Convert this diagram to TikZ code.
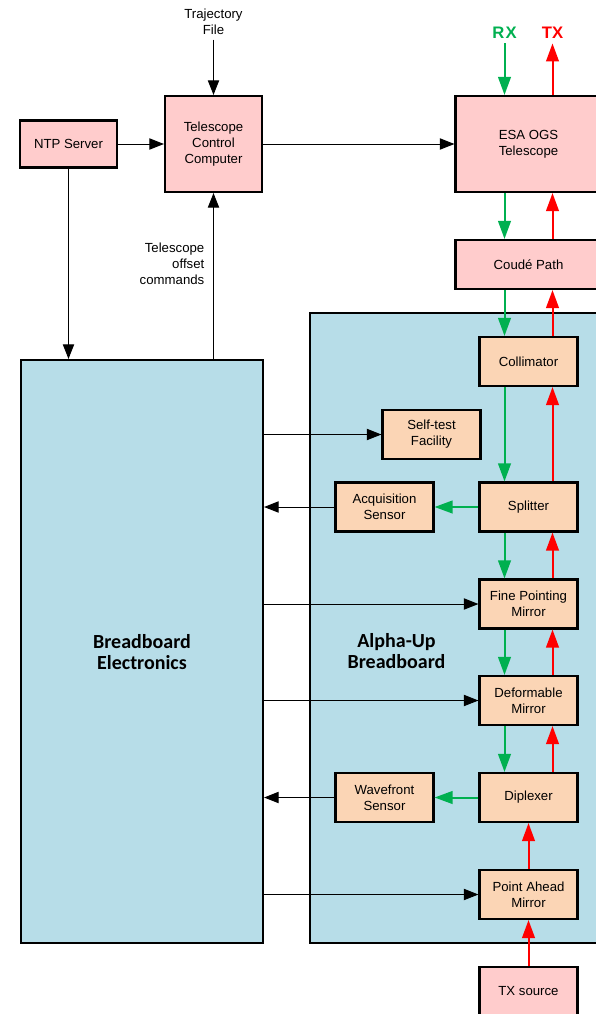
\documentclass[tikz,border=0pt]{standalone}
\usepackage{fontspec}
\setmainfont{Liberation Sans}
\newfontfamily\calibri{Carlito}
\usetikzlibrary{arrows.meta,positioning,calc}
\definecolor{pinkfill}{HTML}{FFCCCC}
\definecolor{peachfill}{HTML}{FBD5B5}
\definecolor{bluefill}{HTML}{B7DDE8}
\definecolor{rxgreen}{HTML}{00B050}
\definecolor{txred}{HTML}{FF0000}

\begin{document}
\begin{tikzpicture}[x=0.75pt, y=-0.75pt,
    font=\fontsize{9.9}{12}\selectfont,
    box/.style={draw, line width=1.6pt, align=center, inner sep=2pt},
    pinkbox/.style={box, fill=pinkfill},
    peachbox/.style={box, fill=peachfill, minimum width=73.5pt, minimum height=36.75pt},
    bigbox/.style={draw, line width=1.6pt, fill=bluefill},
    boldtxt/.style={align=center, font=\calibri\bfseries\fontsize{15}{15.75}\selectfont},
    sig/.style={line width=0.75pt, -{Triangle[length=11pt,width=8.5pt]}},
    rxline/.style={draw=rxgreen, line width=1.5pt, -{Triangle[length=13.5pt,width=9.5pt]}},
    txline/.style={draw=txred, line width=1.5pt, -{Triangle[length=13.5pt,width=9.5pt]}}]
    \useasboundingbox (0,0) rectangle (596,1014);

    % containers
    \node[bigbox, minimum width=220.5pt, minimum height=472.5pt] (abb) at (457,628) {};
    \node[bigbox, minimum width=181.5pt, minimum height=437.25pt] (bbe) at (142,651.5) {};
    \node[boldtxt] (bbelbl) at (142,652) {Breadboard\\Electronics};
    \node[boldtxt] (abblbl) at (396.5,651.5) {Alpha-Up\\Breadboard};

    % ground station
    \node[pinkbox, minimum width=72.75pt, minimum height=35.25pt] (ntp) at (68.5,144) {NTP Server};
    \node[pinkbox, minimum width=72.75pt, minimum height=72pt] (tcc) at (213.5,144) {Telescope\\Control\\Computer};
    \node[pinkbox, minimum width=109.5pt, minimum height=72pt] (ogs) at (528.5,144) {ESA OGS\\Telescope};
    \node[pinkbox, minimum width=109.5pt, minimum height=36.75pt] (cp) at (528.5,264.5) {Coud\'e Path};
    \node[align=center] (traj) at (213.5,22) {Trajectory\\File};
    \node[align=right, anchor=east] (offs) at (209,264) {Telescope\\offset\\commands};
    \node[font=\bfseries\fontsize{12.5}{14}\selectfont, text=rxgreen] (rx) at (504.5,33) {R\kern1pt X};
    \node[font=\bfseries\fontsize{12.5}{14}\selectfont, text=txred] (tx) at (552.5,33) {TX};

    % breadboard units
    \node[peachbox] (col) at (528.5,361.5) {Collimator};
    \node[peachbox] (st) at (431.5,434.5) {Self-test\\Facility};
    \node[peachbox] (spl) at (528.5,507) {Splitter};
    \node[peachbox] (acq) at (384.5,507) {Acquisition\\Sensor};
    \node[peachbox] (fpm) at (528.5,604) {Fine Pointing\\Mirror};
    \node[peachbox] (dm) at (528.5,700.5) {Deformable\\Mirror};
    \node[peachbox] (dip) at (528.5,797.5) {Diplexer};
    \node[peachbox] (wfs) at (384.5,797.5) {Wavefront\\Sensor};
    \node[peachbox] (pam) at (528.5,894.5) {Point Ahead\\Mirror};
    \node[pinkbox, minimum width=73.5pt, minimum height=36.75pt] (txs) at (528.5,991.5) {TX source};

    % control lines
    \draw[sig] (ntp.east) -- (ntp.east -| tcc.west);
    \draw[sig] (tcc) -- (ogs);
    \draw[sig] (traj) -- (tcc);
    \draw[sig] (ntp.south) -- (ntp.south |- bbe.north);
    \draw[sig] (bbe.north -| tcc.south) -- (tcc.south);
    \draw[sig] (bbe.east |- st.west) -- (st.west);
    \draw[sig] (acq.west) -- (acq.west -| bbe.east);
    \draw[sig] (bbe.east |- fpm.west) -- (fpm.west);
    \draw[sig] (bbe.east |- dm.west) -- (dm.west);
    \draw[sig] (wfs.west) -- (wfs.west -| bbe.east);
    \draw[sig] (bbe.east |- pam.west) -- (pam.west);

    % optical path
    \draw[rxline] (rx) -- ([xshift=-18pt]ogs.north);
    \draw[txline] ([xshift=18pt]ogs.north) -- (tx);
    \foreach \a/\b in {ogs/cp, cp/col, col/spl, spl/fpm, fpm/dm, dm/dip} {
        \draw[rxline] ([xshift=-18pt]\a.south) -- ([xshift=-18pt]\b.north);
        \draw[txline] ([xshift=18pt]\b.north) -- ([xshift=18pt]\a.south);
    }
    \draw[rxline] (spl) -- (acq);
    \draw[rxline] (dip) -- (wfs);
    \draw[txline] (pam) -- (dip);
    \draw[txline] (txs) -- (pam);
\end{tikzpicture}
\end{document}
